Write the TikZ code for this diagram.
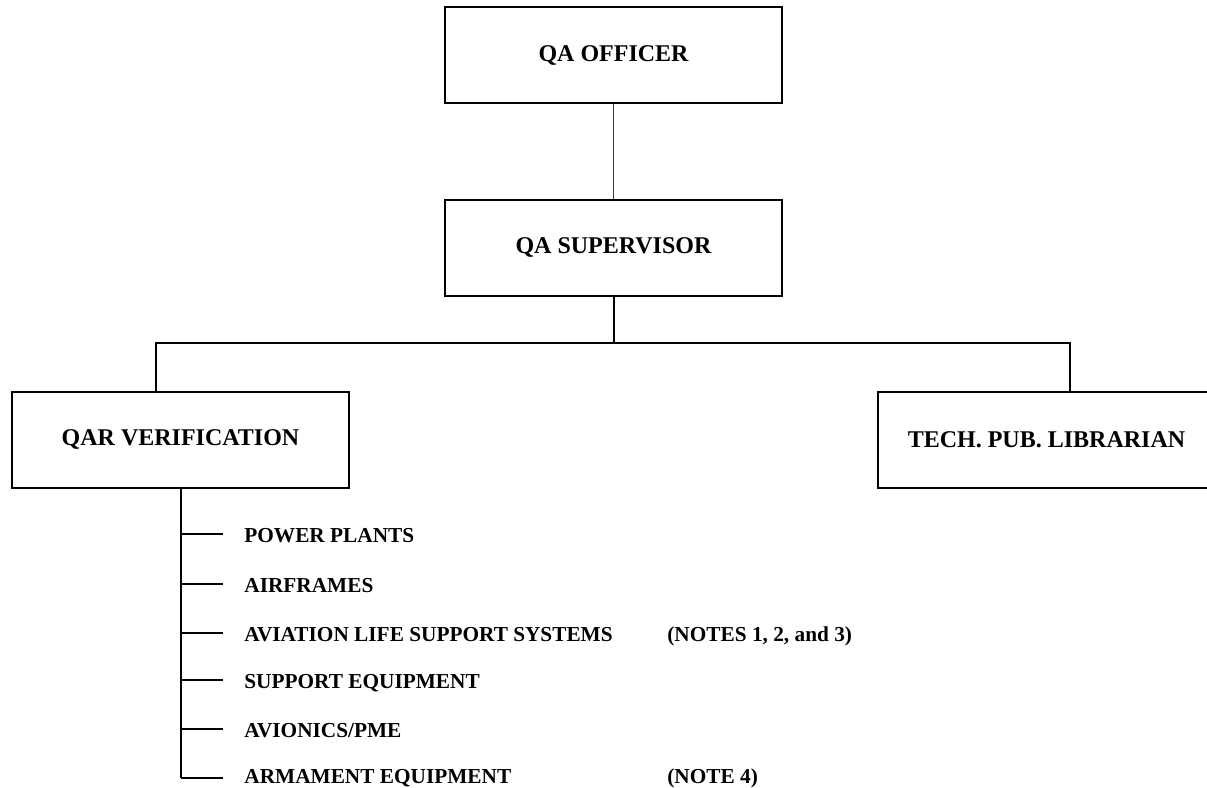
\documentclass[tikz,border=0pt]{standalone}
\usepackage{fontspec}
\setmainfont{Liberation Serif}
\begin{document}
\begin{tikzpicture}[x=0.5pt,y=-0.5pt,
  box/.style={draw, line width=1pt, minimum width=168.5pt, minimum height=48pt,
    inner sep=0pt, font=\fontsize{12}{14}\selectfont\bfseries},
  link/.style={line width=1pt},
  faint/.style={line width=0.6pt, black!75},
  item/.style={anchor=base west, inner sep=0pt,
    font=\fontsize{10.65}{12}\selectfont\bfseries}]
\clip (0,0) rectangle (1207,788);

% organisation boxes
\node[box] (officer) at (613.5,55) {QA OFFICER};
\node[box] (super)   at (613.5,247.5) {QA SUPERVISOR};
\node[box] (qar)     at (180.5,439.5) {QAR VERIFICATION};
\node[box] (tech)    at (1046.5,439.5) {TECH. PUB. LIBRARIAN};

% top-level connectors
\draw[faint] (officer.south) -- (super.north);
\coordinate (hub) at (613.5,343);
\coordinate (hl) at (156,343);
\coordinate (hr) at (1070,343);
\draw[link] (super.south) -- (hub);
\draw[link] (hl |- qar.north) -- (hl) -- (hr) -- (hr |- tech.north);

% branch points on the verification trunk
\coordinate (t1) at (180.5,534);
\coordinate (t2) at (180.5,584);
\coordinate (t3) at (180.5,633);
\coordinate (t4) at (180.5,680);
\coordinate (t5) at (180.5,729);
\coordinate (t6) at (180.5,778);
\draw[link] (qar.south) -- (t6);
\foreach \k in {1,...,6} { \draw[link] (t\k) -- ++(42.5,0); }

% section labels
\node[item] (p1) at (244,542) {POWER PLANTS};
\node[item] (p2) at (244,592) {AIRFRAMES};
\node[item] (p3) at (244,641) {AVIATION LIFE SUPPORT SYSTEMS};
\node[item] (p4) at (244,688) {SUPPORT EQUIPMENT};
\node[item] (p5) at (244,737) {AVIONICS/PME};
\node[item] (p6) at (244,783) {ARMAMENT EQUIPMENT};

% notes
\node[item] (n1) at (667,641) {(NOTES 1, 2, and 3)};
\node[item] (n4) at (667,783) {(NOTE 4)};
\end{tikzpicture}
\end{document}
